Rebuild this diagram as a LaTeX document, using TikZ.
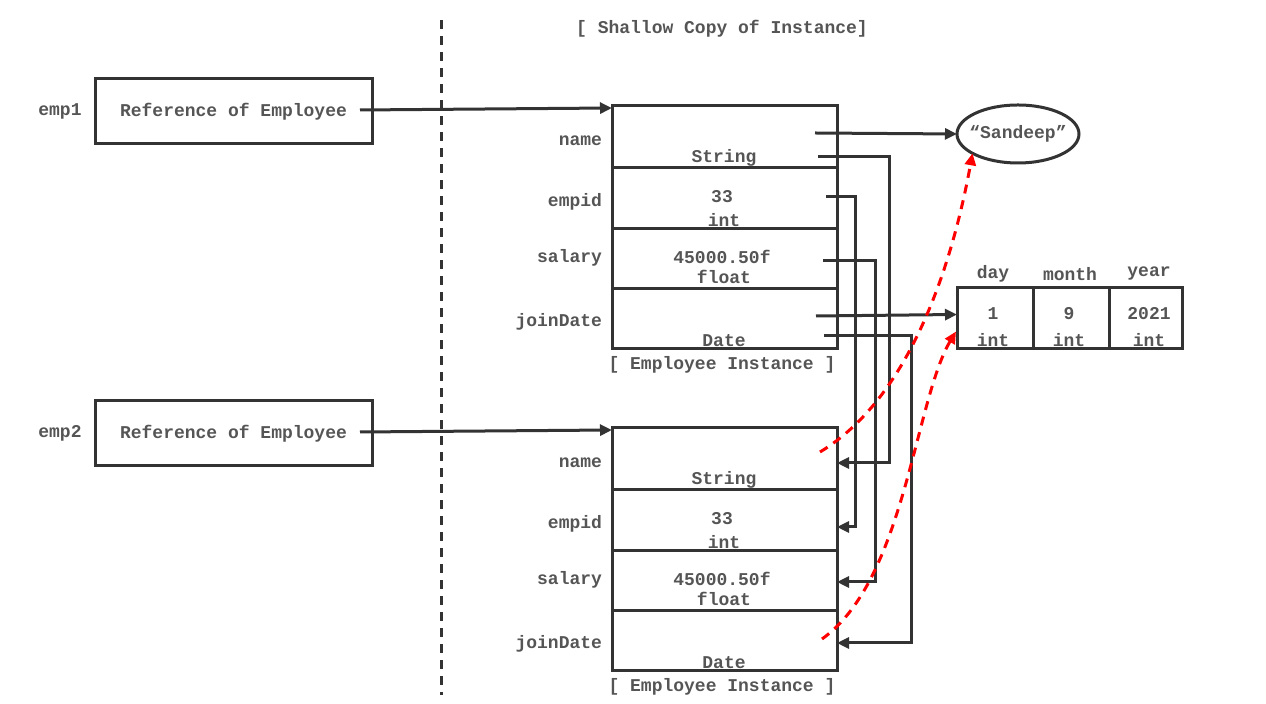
\documentclass[tikz,border=0pt]{standalone}
\usepackage{fontspec}
\setmonofont{Liberation Mono}
\usetikzlibrary{arrows.meta,positioning,calc,shapes.geometric}
\definecolor{linegrey}{HTML}{333333}
\definecolor{textgrey}{HTML}{555555}
\definecolor{refred}{HTML}{FF0000}
\tikzset{
  every node/.style = {font=\ttfamily\bfseries\fontsize{9}{10}\selectfont, text=textgrey,
                       inner sep=0pt, outer sep=0pt},
  refbox/.style     = {draw=linegrey, line width=1.5pt, minimum width=138.5pt, minimum height=32.5pt},
  field/.style      = {draw=linegrey, line width=1.5pt, minimum width=112.5pt},
  cell/.style       = {draw=linegrey, line width=1.5pt, minimum height=30.5pt},
  fname/.style      = {anchor=east},
  ptr/.style        = {-{Triangle[length=6pt,width=5.5pt]}, line width=1.5pt, draw=linegrey},
  shared/.style     = {-{Triangle[length=6pt,width=5.5pt]}, line width=1.5pt, draw=refred,
                       dash pattern=on 4.5pt off 3.5pt},
  divider/.style    = {line width=1.5pt, draw=linegrey, dash pattern=on 4.5pt off 3.5pt},
}

\begin{document}
\begin{tikzpicture}[x=0.5pt, y=-0.5pt]
  \useasboundingbox (0,0) rectangle (1266,704);
  % divider and title
  \coordinate (divtop) at (441,20);
  \coordinate (divbot) at (441,695);
  \draw[divider] (divtop) -- (divbot);
  \node (title) at (722,28.5) {[ Shallow Copy of Instance]};
  % references and the two instances
  \foreach \i/\dy in {1/0,2/322}{
    \node (emp\i) at (60,{111.5+\dy}) {emp\i};
    \node[refbox] (ref\i) at (233.5,{111.5+\dy}) {Reference of Employee};
    \node[field, minimum height=31pt]   (name\i)   at (724.5,{137+\dy})   {};
    \node[field, minimum height=30.5pt] (empid\i)  at (724.5,{198.5+\dy}) {};
    \node[field, minimum height=30pt]   (salary\i) at (724.5,{259+\dy})   {};
    \node[field, minimum height=30pt]   (join\i)   at (724.5,{319+\dy})   {};
    \node (str\i)   at (724,{157.5+\dy}) {String};
    \node (idval\i) at (722,{197+\dy}) {33};
    \node (idty\i)  at (724,{220.5+\dy}) {int};
    \node (salval\i) at (722,{257+\dy}) {45000.50f};
    \node (salty\i)  at (724,{277+\dy}) {float};
    \node (datety\i) at (724,{341+\dy}) {Date};
    \node[fname] (lname\i)  at (602,{140.5+\dy}) {name};
    \node[fname] (lempid\i) at (602,{201.5+\dy}) {empid};
    \node[fname] (lsal\i)   at (602,{257.5+\dy}) {salary};
    \node[fname] (ljoin\i)  at (602,{321.5+\dy}) {joinDate};
    \node (cap\i) at (722,{365+\dy}) {[ Employee Instance ]};
    \draw[ptr] ($(ref\i.east)+(-12,-1.5)$) -- ($(name\i.north west)+(0,2)$);
  }
  % shared objects
  \node[ellipse, draw=linegrey, line width=1.5pt, minimum width=61pt, minimum height=29pt,
        inner xsep=-2.8pt] (sandeep) at (1018,134) {“Sandeep”};
  \node[cell, minimum width=38pt]   (day)   at (995,318.5)    {};
  \node[cell, minimum width=38pt]   (month) at (1071,318.5)   {};
  \node[cell, minimum width=36.5pt] (year)  at (1145.5,318.5) {};
  \node (hday)   at (993,274)  {day};
  \node (hmonth) at (1070,274) {month};
  \node (hyear)  at (1149,274) {year};
  \node (vday)   at (993,314)  {1};
  \node (vmonth) at (1069,314) {9};
  \node (vyear)  at (1149,314) {2021};
  \node (tday)   at (993,340)  {int};
  \node (tmonth) at (1069,340) {int};
  \node (tyear)  at (1149,340) {int};
  % pointers out of the first instance
  \coordinate (nameout) at (815,133);
  \coordinate (joinout) at (816,316);
  \draw[ptr] (nameout) -- (sandeep.west);
  \draw[ptr] (joinout) -- ($(day.west)+(0,-4)$);
  % copied fields
  \coordinate (strout)  at (818,157);
  \coordinate (idout)   at (826,197);
  \coordinate (salout)  at (823,261);
  \coordinate (dateout) at (824,336);
  \draw[ptr] (strout)  -- ++(71,0) |- ($(name2.east)+(0,4)$);
  \draw[ptr] (idout)   -- ++(29,0) |- ($(empid2.east)+(0,6.5)$);
  \draw[ptr] (salout)  -- ++(52,0) |- ($(salary2.east)+(0,1)$);
  \draw[ptr] (dateout) -- ++(87,0) |- ($(join2.east)+(0,2)$);
  % shared references of the copy
  \coordinate (sname) at (820,452);
  \coordinate (sjoin) at (822,639);
  \draw[shared] (sname) .. controls (915,395) and (955,250) .. (sandeep.203);
  \draw[shared] (sjoin) .. controls (905,580) and (915,400) .. ($(day.west)+(-1,13)$);
\end{tikzpicture}
\end{document}
